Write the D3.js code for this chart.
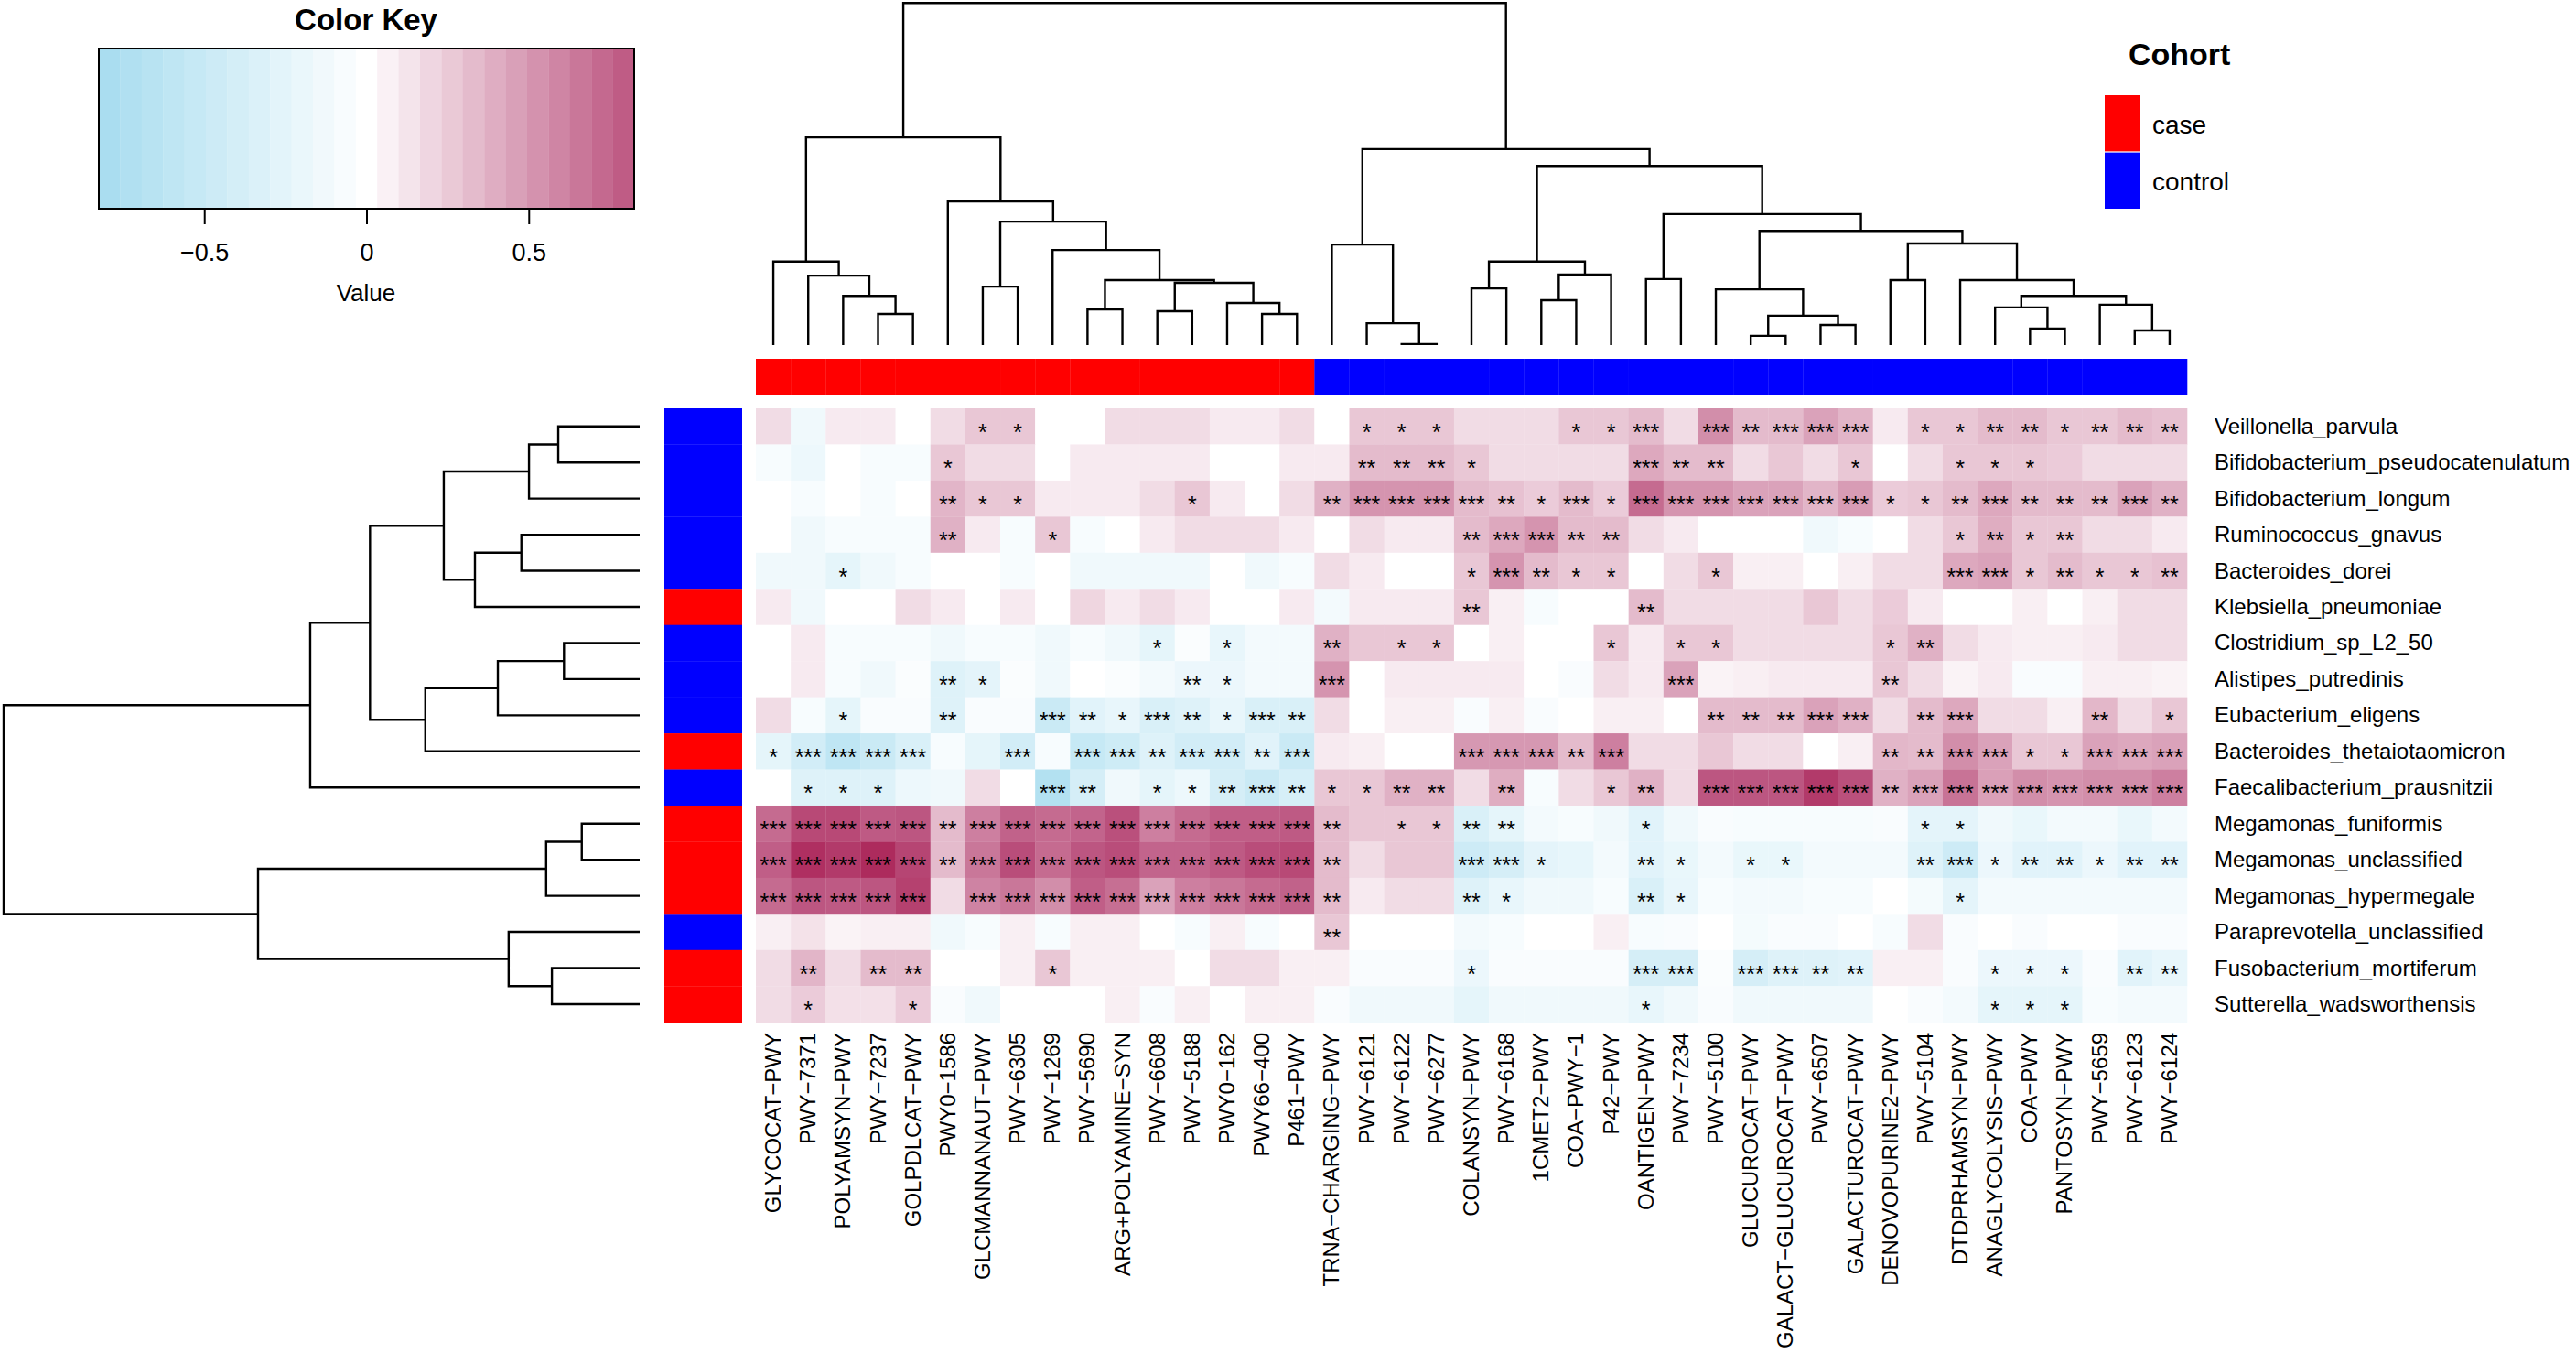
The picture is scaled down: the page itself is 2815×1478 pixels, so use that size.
<!DOCTYPE html>
<html><head><meta charset="utf-8">
<script src="https://cdn.jsdelivr.net/npm/d3@7"></script>
<style>html,body{margin:0;padding:0;background:#fff}svg{display:block}text{font-family:"Liberation Sans",Arial,sans-serif;fill:#000}</style>
</head><body><div id="c"></div>
<script>
const pathways=["GLYCOCAT−PWY","PWY−7371","POLYAMSYN−PWY","PWY−7237","GOLPDLCAT−PWY","PWY0−1586","GLCMANNANAUT−PWY","PWY−6305","PWY−1269","PWY−5690","ARG+POLYAMINE−SYN","PWY−6608","PWY−5188","PWY0−162","PWY66−400","P461−PWY","TRNA−CHARGING−PWY","PWY−6121","PWY−6122","PWY−6277","COLANSYN−PWY","PWY−6168","1CMET2−PWY","COA−PWY−1","P42−PWY","OANTIGEN−PWY","PWY−7234","PWY−5100","GLUCUROCAT−PWY","GALACT−GLUCUROCAT−PWY","PWY−6507","GALACTUROCAT−PWY","DENOVOPURINE2−PWY","PWY−5104","DTDPRHAMSYN−PWY","ANAGLYCOLYSIS−PWY","COA−PWY","PANTOSYN−PWY","PWY−5659","PWY−6123","PWY−6124"];
const species=["Veillonella_parvula","Bifidobacterium_pseudocatenulatum","Bifidobacterium_longum","Ruminococcus_gnavus","Bacteroides_dorei","Klebsiella_pneumoniae","Clostridium_sp_L2_50","Alistipes_putredinis","Eubacterium_eligens","Bacteroides_thetaiotaomicron","Faecalibacterium_prausnitzii","Megamonas_funiformis","Megamonas_unclassified","Megamonas_hypermegale","Paraprevotella_unclassified","Fusobacterium_mortiferum","Sutterella_wadsworthensis"];
const pathwayCohort=["case","case","case","case","case","case","case","case","case","case","case","case","case","case","case","case","control","control","control","control","control","control","control","control","control","control","control","control","control","control","control","control","control","control","control","control","control","control","control","control","control"];
const speciesCohort=["control","control","control","control","control","case","control","control","control","case","control","case","case","case","control","case","case"];
const cohortNames=["case","control"];
const cohortColors=["#ff0000","#0000ff"];
const heatValues=[
[.17,-.14,.1,.1,0,.17,.27,.27,0,0,.17,.17,.17,.1,.1,.17,0,.27,.27,.27,.17,.17,.17,.27,.27,.33,.17,.55,.33,.33,.45,.36,.1,.27,.27,.33,.33,.27,.27,.33,.3],
[-.07,-.17,0,-.07,-.07,.27,.17,.17,0,.1,.1,.1,.1,0,0,.1,.1,.33,.33,.33,.27,.17,.17,.17,.17,.42,.33,.33,.17,.27,.17,.27,0,.17,.27,.27,.27,.25,.17,.17,.17],
[0,-.07,0,-.07,0,.36,.27,.27,.1,.1,.1,.17,.27,.1,0,.17,.38,.52,.52,.52,.33,.3,.25,.33,.25,.72,.52,.52,.45,.45,.36,.48,.25,.27,.33,.42,.33,.33,.33,.45,.38],
[0,-.14,-.07,-.07,-.07,.38,.1,-.07,.27,-.07,0,.1,.17,.17,.17,.1,0,.17,.1,.1,.33,.42,.52,.33,.33,.17,.1,0,0,0,-.14,-.07,0,.17,.27,.4,.27,.27,.17,.17,.1],
[-.14,-.14,-.24,-.14,-.07,0,0,-.07,0,-.14,-.14,-.14,-.14,0,-.14,-.07,.17,.1,0,0,.27,.52,.33,.27,.27,0,.17,.27,.08,.08,0,.08,.17,.17,.42,.45,.27,.33,.27,.27,.3],
[.1,-.14,0,0,.17,.1,0,.1,0,.2,.1,.17,.1,0,0,.1,-.11,.1,.1,.1,.27,.08,-.07,0,0,.33,.17,.17,.17,.17,.27,.17,.25,.1,0,0,.08,0,.08,.17,.17],
[0,.1,-.07,-.07,-.07,-.14,-.07,-.07,-.14,-.07,-.14,-.24,-.05,-.21,-.11,-.11,.38,.27,.27,.27,0,.08,0,0,.27,.1,.27,.27,.17,.17,.17,.17,.27,.38,.17,.1,.08,.08,.1,.17,.17],
[0,.1,-.07,-.14,-.05,-.31,-.25,-.05,-.14,0,-.05,-.11,-.18,-.18,-.11,-.11,.52,0,.1,.1,.1,.1,0,-.06,.17,.1,.45,.06,.08,.1,.1,.1,.27,.17,.06,.1,-.06,-.06,.08,.08,.06],
[.17,-.07,-.24,-.06,-.06,-.31,-.06,-.06,-.49,-.28,-.21,-.35,-.31,-.21,-.35,-.35,.17,0,.08,.08,-.06,.08,-.06,0,.08,.08,0,.33,.33,.33,.45,.38,.17,.33,.42,.17,.17,.08,.35,.17,.27],
[-.24,-.42,-.59,-.49,-.35,-.07,-.24,-.42,-.07,-.53,-.45,-.31,-.42,-.42,-.28,-.49,.1,.08,0,0,.5,.5,.5,.33,.62,.17,.17,.27,.17,.17,0,.08,.35,.33,.55,.45,.27,.27,.45,.42,.45],
[0,-.31,-.31,-.31,-.17,-.14,.17,0,-.7,-.39,-.14,-.24,-.17,-.39,-.49,-.38,.27,.27,.38,.38,.17,.4,-.07,.17,.27,.38,.17,.82,.82,.82,.95,.85,.38,.45,.68,.46,.55,.52,.55,.55,.62],
[.72,.88,.88,.8,.82,.33,.62,.76,.72,.75,.85,.62,.72,.78,.78,.8,.33,.27,.27,.27,-.35,-.24,-.11,-.07,-.14,-.28,-.14,-.06,-.07,-.07,-.07,-.07,-.06,-.25,-.25,-.14,-.2,-.11,-.11,-.2,-.11],
[.78,1,.95,1.02,.9,.33,.66,.86,.72,.82,.86,.75,.75,.8,.86,.88,.33,.17,.27,.27,-.46,-.39,-.25,-.22,-.11,-.28,-.2,-.11,-.2,-.2,-.11,-.11,-.11,-.31,-.46,-.18,-.28,-.28,-.18,-.28,-.28],
[.72,.82,.8,.82,.92,.17,.6,.66,.55,.78,.7,.45,.62,.66,.72,.76,.33,.1,.17,.17,-.31,-.21,-.14,-.14,-.07,-.35,-.21,-.07,-.11,-.11,-.07,-.07,0,-.1,-.25,-.11,-.11,-.11,-.11,-.11,-.11],
[.08,.14,.06,.08,.08,-.14,-.07,.08,-.07,.08,.08,0,-.07,.08,-.07,0,.27,0,0,0,-.11,-.07,0,0,.08,-.07,-.06,0,-.1,-.06,-.06,0,-.07,.17,-.06,0,-.06,0,0,-.06,-.06],
[.17,.36,.17,.33,.33,0,0,.08,.27,.08,.08,.08,0,.17,.17,.08,.08,-.06,-.06,-.06,-.18,-.06,-.06,-.06,-.06,-.39,-.39,-.05,-.39,-.31,-.31,-.28,.08,.08,-.06,-.18,-.18,-.18,-.06,-.28,-.21],
[.17,.25,.15,.15,.25,-.06,-.14,0,0,0,.08,-.06,.08,0,.08,.08,-.06,-.14,-.14,-.14,-.24,-.14,-.14,-.14,-.14,-.21,-.14,-.06,-.14,-.14,-.14,-.14,0,-.06,-.11,-.24,-.24,-.24,-.07,-.11,-.11]];
const starCounts=[
[0,0,0,0,0,0,1,1,0,0,0,0,0,0,0,0,0,1,1,1,0,0,0,1,1,3,0,3,2,3,3,3,0,1,1,2,2,1,2,2,2],
[0,0,0,0,0,1,0,0,0,0,0,0,0,0,0,0,0,2,2,2,1,0,0,0,0,3,2,2,0,0,0,1,0,0,1,1,1,0,0,0,0],
[0,0,0,0,0,2,1,1,0,0,0,0,1,0,0,0,2,3,3,3,3,2,1,3,1,3,3,3,3,3,3,3,1,1,2,3,2,2,2,3,2],
[0,0,0,0,0,2,0,0,1,0,0,0,0,0,0,0,0,0,0,0,2,3,3,2,2,0,0,0,0,0,0,0,0,0,1,2,1,2,0,0,0],
[0,0,1,0,0,0,0,0,0,0,0,0,0,0,0,0,0,0,0,0,1,3,2,1,1,0,0,1,0,0,0,0,0,0,3,3,1,2,1,1,2],
[0,0,0,0,0,0,0,0,0,0,0,0,0,0,0,0,0,0,0,0,2,0,0,0,0,2,0,0,0,0,0,0,0,0,0,0,0,0,0,0,0],
[0,0,0,0,0,0,0,0,0,0,0,1,0,1,0,0,2,0,1,1,0,0,0,0,1,0,1,1,0,0,0,0,1,2,0,0,0,0,0,0,0],
[0,0,0,0,0,2,1,0,0,0,0,0,2,1,0,0,3,0,0,0,0,0,0,0,0,0,3,0,0,0,0,0,2,0,0,0,0,0,0,0,0],
[0,0,1,0,0,2,0,0,3,2,1,3,2,1,3,2,0,0,0,0,0,0,0,0,0,0,0,2,2,2,3,3,0,2,3,0,0,0,2,0,1],
[1,3,3,3,3,0,0,3,0,3,3,2,3,3,2,3,0,0,0,0,3,3,3,2,3,0,0,0,0,0,0,0,2,2,3,3,1,1,3,3,3],
[0,1,1,1,0,0,0,0,3,2,0,1,1,2,3,2,1,1,2,2,0,2,0,0,1,2,0,3,3,3,3,3,2,3,3,3,3,3,3,3,3],
[3,3,3,3,3,2,3,3,3,3,3,3,3,3,3,3,2,0,1,1,2,2,0,0,0,1,0,0,0,0,0,0,0,1,1,0,0,0,0,0,0],
[3,3,3,3,3,2,3,3,3,3,3,3,3,3,3,3,2,0,0,0,3,3,1,0,0,2,1,0,1,1,0,0,0,2,3,1,2,2,1,2,2],
[3,3,3,3,3,0,3,3,3,3,3,3,3,3,3,3,2,0,0,0,2,1,0,0,0,2,1,0,0,0,0,0,0,0,1,0,0,0,0,0,0],
[0,0,0,0,0,0,0,0,0,0,0,0,0,0,0,0,2,0,0,0,0,0,0,0,0,0,0,0,0,0,0,0,0,0,0,0,0,0,0,0,0],
[0,2,0,2,2,0,0,0,1,0,0,0,0,0,0,0,0,0,0,0,1,0,0,0,0,3,3,0,3,3,2,2,0,0,0,1,1,1,0,2,2],
[0,1,0,0,1,0,0,0,0,0,0,0,0,0,0,0,0,0,0,0,0,0,0,0,0,1,0,0,0,0,0,0,0,0,0,1,1,1,0,0,0]];
// hclust-style merges: negative = leaf position (1-based), positive = earlier merge
const colMerge=[[-4,-5],[-3,1],[-2,2],[-1,3],[-7,-8],[-10,-11],[-12,-13],[-15,-16],[-14,8],[7,9],[6,10],[-9,11],[5,12],[-6,13],[4,14],[-19,-20],[-18,16],[-17,17],[-21,-22],[-23,-24],[20,-25],[19,21],[-26,-27],[-29,-30],[-31,-32],[24,25],[-28,26],[-33,-34],[-37,-38],[-36,29],[-40,-41],[-39,31],[30,32],[-35,33],[28,34],[27,35],[23,36],[22,37],[18,38],[15,39]];
const colHeight=[9.1,14.4,20.3,24.4,17.1,10.4,9.9,9.1,12.3,18.2,19,27.8,36.1,42,60.7,.3,6.4,29.4,16.6,13.1,20.6,24.4,19.3,2.7,5.9,8.6,16.3,19,4.8,11,4.3,11.8,14.4,19,29.7,33.4,38.3,52.4,57.3,100];
const rowMerge=[[-1,-2],[1,-3],[-4,-5],[3,-6],[2,4],[-7,-8],[6,-9],[7,-10],[5,8],[9,-11],[-12,-13],[11,-14],[-16,-17],[-15,13],[12,14],[10,15]];
const rowHeight=[12.8,17.4,18.6,25.9,30.8,11.9,22.3,33.7,42.4,51.8,9.1,14.7,13.8,20.6,60,100];
const keyTicks=[-.5,0,.5];
const keyMax=.825, keyBands=25;

const W=2815,H=1478;
const svg=d3.select("#c").append("svg").attr("width",W).attr("height",H).attr("viewBox",[0,0,W,H]);
svg.append("rect").attr("width",W).attr("height",H).attr("fill","#fff");
const x=d3.scaleBand().domain(d3.range(pathways.length)).range([826,2390]);
const y=d3.scaleBand().domain(d3.range(species.length)).range([446,1116.7]);
const color=d3.scaleLinear().domain([-keyMax,0,keyMax,1.02]).range(["#a6dcef","#ffffff","#bc5580","#ad2b5d"]).clamp(true);
const cohort=d3.scaleOrdinal(cohortNames,cohortColors);

// heat cells
const cells=heatValues.flatMap((r,i)=>r.map((v,j)=>({i,j,v,s:starCounts[i][j]})));
svg.append("g").selectAll("rect").data(cells).join("rect")
 .attr("x",d=>x(d.j)).attr("y",d=>y(d.i)).attr("width",x.bandwidth()+.3).attr("height",y.bandwidth()+.3)
 .attr("fill",d=>color(d.v));
svg.append("g").attr("text-anchor","middle").attr("font-size",25).selectAll("text").data(cells.filter(d=>d.s>0)).join("text")
 .attr("x",d=>x(d.j)+x.bandwidth()/2).attr("y",d=>y(d.i)+y.bandwidth()/2+15).text(d=>"*".repeat(d.s));

// side bars
svg.append("g").selectAll("rect").data(pathwayCohort).join("rect")
 .attr("x",(d,j)=>x(j)).attr("y",392).attr("width",x.bandwidth()+.3).attr("height",39).attr("fill",d=>cohort(d));
svg.append("g").selectAll("rect").data(speciesCohort).join("rect")
 .attr("x",726).attr("y",(d,i)=>y(i)).attr("width",85).attr("height",y.bandwidth()+.3).attr("fill",d=>cohort(d));

// labels
svg.append("g").attr("font-size",24).selectAll("text").data(species).join("text")
 .attr("x",2420).attr("y",(d,i)=>y(i)+y.bandwidth()/2+8).text(d=>d);
svg.append("g").attr("font-size",24).attr("text-anchor","end").selectAll("text").data(pathways).join("text")
 .attr("transform",(d,j)=>`translate(${x(j)+x.bandwidth()/2+8},1128) rotate(-90)`).text(d=>d);

// dendrograms
function dendro(merge,heights,leafPos,hPos,vertical){
  const p=d3.path(), nodes=[];
  const pos=k=>k<0?{c:leafPos(-k-1),h:0}:nodes[k-1];
  merge.forEach((m,n)=>{
    const a=pos(m[0]),b=pos(m[1]),h=heights[n];
    const pt=(c,v)=>vertical?[c,hPos(v)]:[hPos(v),c];
    p.moveTo(...pt(a.c,a.h));p.lineTo(...pt(a.c,h));p.lineTo(...pt(b.c,h));p.lineTo(...pt(b.c,b.h));
    nodes.push({c:(a.c+b.c)/2,h});
  });
  return p.toString();
}
const colH=d3.scaleLinear().domain([0,100]).range([377,3.3]);
const rowH=d3.scaleLinear().domain([0,100]).range([699,4]);
svg.append("path").attr("fill","none").attr("stroke","#000").attr("stroke-width",2.4)
 .attr("d",dendro(colMerge,colHeight,j=>x(j)+x.bandwidth()/2,colH,true));
svg.append("path").attr("fill","none").attr("stroke","#000").attr("stroke-width",2.4)
 .attr("d",dendro(rowMerge,rowHeight,i=>y(i)+y.bandwidth()/2,rowH,false));

// colour key
const kx=d3.scaleLinear().domain([-keyMax,keyMax]).range([108,693]);
const step=2*keyMax/keyBands;
svg.append("g").selectAll("rect").data(d3.range(keyBands)).join("rect")
 .attr("x",k=>kx(-keyMax+k*step)).attr("y",53).attr("width",kx(step)-kx(0)+.3).attr("height",175)
 .attr("fill",k=>color(-keyMax+(k+.5)*step));
svg.append("rect").attr("x",108).attr("y",53).attr("width",585).attr("height",175).attr("fill","none").attr("stroke","#000").attr("stroke-width",2);
const kAxis=svg.append("g").attr("transform","translate(0,228)")
 .call(d3.axisBottom(kx).tickValues(keyTicks).tickSize(17).tickPadding(21).tickFormat(v=>v===0?"0":String(v).replace("-","−").replace(/^(−?)\./,"$10.")));
kAxis.select(".domain").remove();
kAxis.selectAll("line").attr("stroke-width",2);
kAxis.selectAll("text").attr("font-size",27).attr("font-family",'"Liberation Sans"');
svg.append("text").attr("x",400).attr("y",33).attr("text-anchor","middle").attr("font-size",33).attr("font-weight","bold").text("Color Key");
svg.append("text").attr("x",400).attr("y",329).attr("text-anchor","middle").attr("font-size",26).text("Value");

// cohort legend
svg.append("text").attr("x",2326).attr("y",71).attr("font-size",34).attr("font-weight","bold").text("Cohort");
const ly=d3.scaleBand().domain(cohortNames).range([104,228]).paddingInner(.02);
svg.append("g").selectAll("rect").data(cohortNames).join("rect")
 .attr("x",2300).attr("y",d=>ly(d)).attr("width",39).attr("height",ly.bandwidth()).attr("fill",d=>cohort(d));
svg.append("g").attr("font-size",28).selectAll("text").data(cohortNames).join("text")
 .attr("x",2352).attr("y",d=>ly(d)+ly.bandwidth()/2+11).text(d=>d);
</script></body></html>
